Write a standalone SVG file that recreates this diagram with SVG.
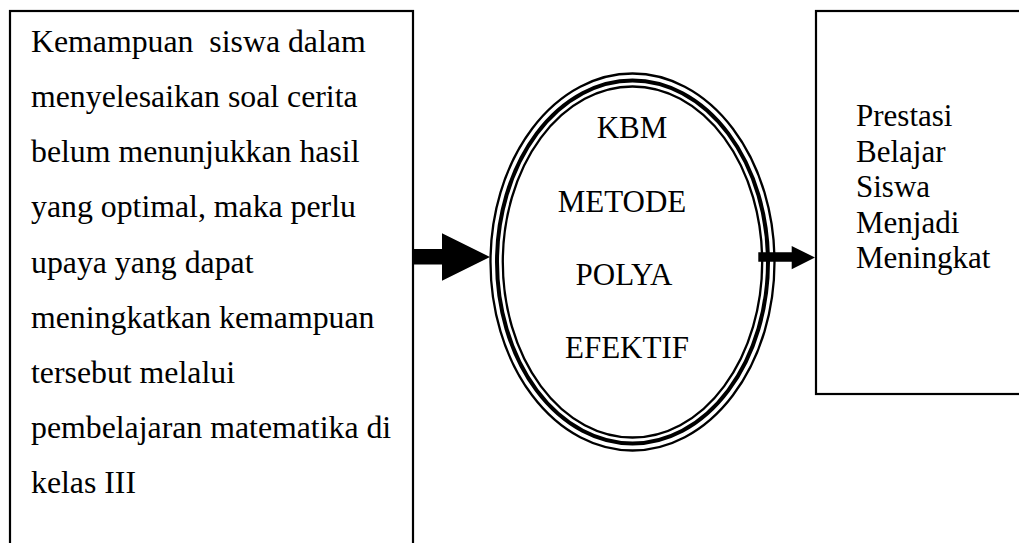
<svg xmlns="http://www.w3.org/2000/svg" width="1019" height="543" viewBox="0 0 1019 543">
<style>
.box{fill:#fff;stroke:#000;stroke-width:2.2}
.t{font-family:"Liberation Serif","Times New Roman",serif;font-size:31px;fill:#000}
.l{font-size:31.8px}
.e{fill:none;stroke:#000}
</style>
<rect width="1019" height="543" fill="#fff"/>
<g id="node-left">
<rect class="box" x="10" y="11" width="403" height="560"/>
<text class="t l" x="31" y="51.7" xml:space="preserve">Kemampuan  siswa dalam</text>
<text class="t l" x="31" y="106.9">menyelesaikan soal cerita</text>
<text class="t l" x="31" y="162.1">belum menunjukkan hasil</text>
<text class="t l" x="31" y="217.3">yang optimal, maka perlu</text>
<text class="t l" x="31" y="272.5">upaya yang dapat</text>
<text class="t l" x="31" y="327.7">meningkatkan kemampuan</text>
<text class="t l" x="31" y="382.9">tersebut melalui</text>
<text class="t l" x="31" y="438.1">pembelajaran matematika di</text>
<text class="t l" x="31" y="493.3">kelas III</text>
</g>
<g id="node-center">
<ellipse cx="632.5" cy="262" rx="142" ry="188.5" fill="#fff" stroke="none"/>
<ellipse class="e" cx="632.5" cy="262" rx="142" ry="188.5" stroke-width="2.3"/>
<ellipse class="e" cx="632.5" cy="262" rx="135.5" ry="181.5" stroke-width="4"/>
<ellipse class="e" cx="632.5" cy="262" rx="129.7" ry="175.5" stroke-width="2.3"/>
<text class="t" x="632" y="138" text-anchor="middle">KBM</text>
<text class="t" x="622" y="212" text-anchor="middle">METODE</text>
<text class="t" x="624" y="285" text-anchor="middle">POLYA</text>
<text class="t" x="627" y="358" text-anchor="middle">EFEKTIF</text>
</g>
<g id="node-right">
<rect class="box" x="816" y="11" width="220" height="383"/>
<text class="t" x="856" y="126">Prestasi</text>
<text class="t" x="856" y="161.5">Belajar</text>
<text class="t" x="856" y="197">Siswa</text>
<text class="t" x="856" y="232.5">Menjadi</text>
<text class="t" x="856" y="268">Meningkat</text>
</g>
<g id="connectors">
<polygon points="413,249 442,249 442,233.3 490,257 442,280.7 442,264.5 413,264.5" fill="#000"/>
<polygon points="758.3,252.3 791.7,252.3 791.7,246 815,257.5 791.7,269.3 791.7,261.7 758.3,261.7" fill="#000"/>
</g>
</svg>
